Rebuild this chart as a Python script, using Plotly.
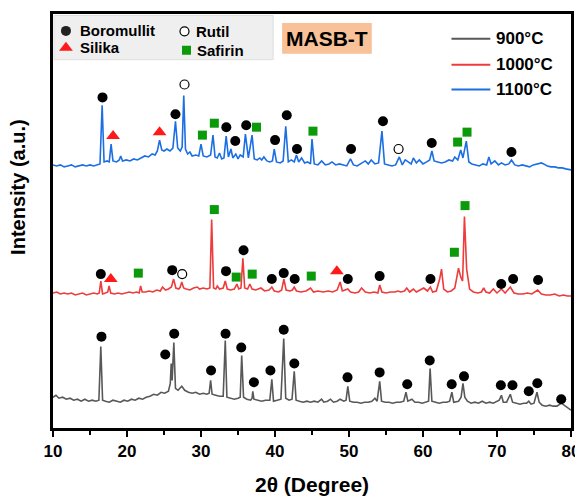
import plotly.graph_objects as go

# ---------------- data (2θ in degrees, intensity in a.u.) ----------------
T900_X = [10.0, 10.4, 10.8, 11.3, 11.8, 12.3, 12.8, 13.3, 13.8, 14.3, 14.8, 15.3, 15.8, 16.2, 16.46, 16.7,
          17.1, 17.6, 18.1, 18.6, 19.1, 19.6, 20.1, 20.6, 21.1, 21.6, 22.1, 22.6, 23.1, 23.6, 24.1, 24.6,
          25.1, 25.6, 25.85, 25.97, 26.1, 26.33, 26.55, 26.9, 27.4, 27.8, 28.3, 28.8, 29.3, 29.8, 30.3, 30.8,
          31.1, 31.3, 31.5, 32.0, 32.5, 33.0, 33.28, 33.5, 34.0, 34.5, 35.0, 35.3, 35.5, 35.75, 36.2, 36.7,
          36.9, 37.0, 37.15, 37.7, 38.2, 38.7, 39.3, 39.57, 39.8, 40.3, 40.8, 41.18, 41.45, 41.9, 42.3, 42.6,
          42.85, 43.3, 43.8, 44.3, 44.8, 45.3, 45.8, 46.3, 46.6, 47.1, 47.5, 47.9, 48.4, 48.8, 49.3, 49.6,
          49.84, 50.1, 50.6, 51.1, 51.6, 52.1, 52.6, 53.1, 53.5, 53.8, 54.15, 54.4, 54.9, 55.4, 55.9, 56.4,
          56.9, 57.4, 57.7, 57.95, 58.5, 58.9, 59.4, 59.9, 60.4, 60.75, 60.96, 61.2, 61.7, 62.2, 62.7, 63.2,
          63.6, 63.9, 64.15, 64.8, 65.15, 65.4, 65.65, 66.0, 66.5, 67.0, 67.5, 68.0, 68.5, 69.0, 69.5, 70.0,
          70.3, 70.6, 70.85, 71.3, 71.8, 72.1, 72.6, 73.1, 73.6, 74.0, 74.3, 74.6, 75.0, 75.4, 75.7, 76.1,
          76.6, 77.1, 77.6, 78.1, 78.7, 79.2, 79.6, 80.0]
T900_Y = [31, 33, 30, 31, 29, 30, 28, 29, 27, 29, 27, 28, 27, 28, 82, 28,
          27, 26, 28, 27, 26, 28, 27, 29, 28, 30, 29, 31, 32, 34, 33, 36,
          35, 37, 45, 65, 48, 86, 40, 38, 42, 38, 36, 35, 36, 34, 35, 34,
          35, 48, 34, 33, 32, 32, 88, 31, 30, 29, 30, 31, 73, 31, 29, 28,
          30, 37, 29, 28, 27, 28, 28, 49, 27, 28, 29, 90, 30, 28, 29, 57,
          28, 27, 26, 27, 26, 27, 26, 29, 26, 27, 29, 26, 27, 29, 27, 28,
          42, 27, 26, 26, 25, 26, 26, 27, 30, 27, 47, 27, 26, 26, 25, 26,
          26, 27, 36, 27, 29, 26, 26, 25, 26, 27, 60, 27, 26, 25, 26, 26,
          27, 36, 26, 27, 31, 45, 31, 27, 25, 26, 25, 27, 25, 26, 25, 27,
          28, 33, 26, 26, 34, 26, 25, 24, 25, 25, 27, 24, 25, 36, 26, 23,
          22, 23, 22, 22, 25, 22, 20, 18]

T1000_X = [10.0, 10.5, 11.0, 11.5, 12.0, 12.5, 13.0, 13.5, 14.0, 14.5, 15.0, 15.5, 16.0, 16.25, 16.46, 16.7,
           17.1, 17.4, 17.58, 17.8, 18.3, 18.8, 19.3, 19.8, 20.3, 20.8, 21.3, 21.65, 21.84, 22.05, 22.5, 23.0,
           23.5, 24.0, 24.5, 24.8, 25.2, 25.6, 26.0, 26.3, 26.6, 27.0, 27.2, 27.4, 27.65, 28.0, 28.5, 29.0,
           29.5, 29.8, 30.3, 30.8, 31.2, 31.44, 31.7, 32.0, 32.2, 32.5, 33.0, 33.28, 33.55, 34.0, 34.5, 34.85,
           35.1, 35.4, 35.66, 35.9, 36.3, 36.6, 36.9, 37.4, 38.1, 38.6, 39.2, 39.57, 39.9, 40.5, 40.9, 41.2,
           41.5, 42.0, 42.35, 42.6, 42.9, 43.5, 44.2, 44.8, 45.2, 45.8, 46.5, 47.2, 47.8, 48.4, 48.8, 49.1,
           49.5, 49.84, 50.2, 50.8, 51.3, 51.7, 52.2, 52.8, 53.4, 53.9, 54.15, 54.45, 55.0, 55.6, 56.2, 56.6,
           57.0, 57.5, 57.8, 58.2, 58.7, 59.1, 59.6, 60.1, 60.6, 61.0, 61.3, 61.8, 62.25, 62.5, 62.8, 63.3,
           63.8, 64.3, 64.8, 65.1, 65.35, 65.6, 65.9, 66.3, 66.8, 67.4, 67.9, 68.2, 68.5, 69.0, 69.5, 70.0,
           70.6, 71.1, 71.8, 72.3, 72.9, 73.5, 74.1, 74.7, 75.5, 76.0, 76.6, 77.2, 77.8, 78.4, 79.0, 79.5,
           80.0]
T1000_Y = [136, 137, 135, 136, 135, 136, 134, 135, 136, 134, 135, 136, 135, 136, 148, 135,
           136, 137, 143, 136, 135, 136, 135, 136, 137, 136, 137, 136, 143, 137, 137, 138,
           137, 139, 138, 142, 139, 140, 142, 150, 141, 140, 142, 147, 141, 140, 139, 141,
           142, 140, 141, 140, 141, 210, 141, 140, 143, 140, 141, 148, 140, 139, 140, 145,
           140, 141, 171, 141, 140, 145, 140, 139, 141, 138, 139, 142, 138, 137, 139, 150,
           139, 138, 139, 142, 138, 137, 138, 141, 137, 138, 137, 138, 137, 139, 147, 138,
           139, 140, 137, 136, 137, 141, 137, 136, 137, 136, 144, 137, 136, 137, 137, 138,
           137, 138, 141, 137, 140, 137, 139, 141, 138, 142, 137, 138, 150, 160, 140, 137,
           138, 141, 161, 152, 148, 213, 160, 140, 137, 136, 137, 141, 137, 136, 140, 136,
           140, 136, 142, 136, 135, 135, 136, 135, 139, 135, 134, 134, 135, 133, 134, 133,
           133]

T1100_X = [10.0, 10.5, 11.0, 11.5, 12.0, 12.5, 13.0, 13.5, 14.0, 14.5, 15.0, 15.5, 16.0, 16.35, 16.64, 16.9,
           17.3, 17.6, 17.85, 18.1, 18.6, 18.95, 19.15, 19.4, 19.9, 20.4, 20.9, 21.4, 21.9, 22.4, 22.9, 23.4,
           23.8, 24.1, 24.4, 24.7, 25.0, 25.4, 25.8, 26.2, 26.55, 26.85, 27.2, 27.45, 27.67, 27.9, 28.2, 28.5,
           28.8, 29.3, 29.7, 30.0, 30.3, 30.8, 31.3, 31.62, 31.9, 32.2, 32.5, 32.8, 33.1, 33.4, 33.7, 34.05,
           34.3, 34.7, 35.0, 35.3, 35.7, 36.0, 36.4, 36.9, 37.2, 37.6, 37.95, 38.2, 38.5, 38.9, 39.3, 39.65,
           39.9, 40.2, 40.7, 41.1, 41.45, 41.8, 42.2, 42.6, 42.9, 43.2, 43.6, 44.0, 44.4, 44.8, 45.0, 45.3,
           45.8, 46.3, 46.8, 47.3, 47.7, 48.2, 48.7, 49.2, 49.7, 50.2, 50.6, 51.1, 51.6, 52.2, 52.6, 53.0,
           53.5, 54.0, 54.45, 54.8, 55.3, 55.8, 56.3, 56.8, 57.2, 57.6, 58.0, 58.4, 58.7, 59.1, 59.5, 60.0,
           60.5, 60.9, 61.2, 61.5, 62.0, 62.5, 63.0, 63.5, 64.0, 64.3, 64.7, 65.1, 65.4, 65.85, 66.2, 66.6,
           67.1, 67.6, 68.1, 68.6, 68.9, 69.2, 69.7, 70.2, 70.6, 71.1, 71.6, 71.96, 72.4, 72.9, 73.4, 73.9,
           74.4, 74.9, 75.4, 75.8, 76.0, 76.3, 76.8, 77.3, 77.8, 78.3, 78.8, 79.3, 79.7, 80.0]
T1100_Y = [265, 264, 265, 263, 264, 265, 263, 264, 265, 264, 265, 264, 265, 266, 325, 268,
           269, 268, 286, 269, 268, 270, 274, 269, 270, 269, 271, 270, 272, 274, 273, 276,
           275, 279, 290, 280, 279, 281, 279, 282, 309, 282, 279, 283, 335, 281, 276, 278,
           274, 275, 274, 286, 274, 273, 275, 295, 273, 272, 277, 271, 272, 294, 273, 281,
           272, 276, 271, 275, 273, 296, 272, 295, 271, 270, 272, 270, 273, 269, 268, 269,
           281, 268, 267, 269, 304, 268, 270, 268, 275, 268, 272, 267, 268, 266, 291, 266,
           265, 269, 265, 266, 268, 265, 266, 265, 264, 271, 265, 264, 266, 269, 266, 270,
           266, 267, 299, 266, 265, 264, 265, 273, 265, 270, 268, 266, 272, 267, 270, 266,
           268, 270, 279, 269, 268, 267, 268, 270, 269, 273, 270, 280, 272, 289, 268, 266,
           265, 264, 266, 265, 273, 266, 269, 265, 267, 265, 266, 270, 265, 264, 265, 264,
           263, 265, 266, 267, 267, 266, 264, 263, 263, 262, 262, 261, 260, 260]

# phase identification markers (2θ, intensity)
BOROMULLIT_X = [16.55, 25.17, 26.38, 31.36, 33.32, 35.44, 37.15, 39.38, 41.18, 42.61, 49.80, 54.14, 57.87,
                60.91, 63.88, 65.54, 70.52, 72.09, 74.29, 75.45, 78.68,
                16.46, 26.11, 33.38, 35.75, 39.57, 41.18, 42.66, 49.84, 54.14, 61.01, 70.57, 72.18, 75.55,
                16.69, 26.55, 33.42, 34.63, 36.11, 40.01, 41.59, 42.97, 50.28, 54.59, 61.18, 71.95]
BOROMULLIT_Y = [92, 74, 95, 58, 95, 81, 46, 58, 99, 65, 51, 56, 44,
                68, 44, 52, 43, 43, 37, 45, 29,
                155, 159, 158, 179, 150, 156, 150, 150, 153, 150, 145, 150, 149,
                333, 316, 303, 289, 305, 290, 315, 281, 281, 309, 287, 278]
RUTIL_X = [27.46, 27.77, 56.70]
RUTIL_Y = [155, 346, 281]
SILIKA_X = [17.81, 48.36, 18.12, 24.40]
SILIKA_Y = [150, 158, 294, 298]
SAFIRIN_X = [21.53, 31.80, 34.76, 36.92, 44.90, 64.24, 65.68, 30.19, 31.80, 37.50, 45.13, 64.68, 65.95]
SAFIRIN_Y = [156, 220, 152, 155, 153, 177, 224, 295, 307, 303, 299, 288, 298]

SERIES_NAMES = ["900°C", "1000°C", "1100°C"]
SERIES_COLORS = ["#585858", "#ee3b3b", "#1c6fe3"]
X_TICKS = [10, 20, 30, 40, 50, 60, 70, 80]

FONT = "Liberation Sans, Arial, sans-serif"

fig = go.Figure()

for xs, ys, name, col in zip([T900_X, T1000_X, T1100_X], [T900_Y, T1000_Y, T1100_Y],
                             SERIES_NAMES, SERIES_COLORS):
    fig.add_trace(go.Scatter(x=xs, y=ys, mode="lines", name=name,
                             line=dict(color=col, width=1.6), showlegend=False))

fig.add_trace(go.Scatter(x=BOROMULLIT_X, y=BOROMULLIT_Y, mode="markers", showlegend=False,
                         marker=dict(symbol="circle", size=10, color="black"), cliponaxis=False))
fig.add_trace(go.Scatter(x=RUTIL_X, y=RUTIL_Y, mode="markers", showlegend=False,
                         marker=dict(symbol="circle", size=9, color="white",
                                     line=dict(color="black", width=1.2)), cliponaxis=False))
fig.add_trace(go.Scatter(x=SILIKA_X, y=SILIKA_Y, mode="markers", showlegend=False,
                         marker=dict(symbol="triangle-up", size=12, color="#ff1a1a"), cliponaxis=False))
fig.add_trace(go.Scatter(x=SAFIRIN_X, y=SAFIRIN_Y, mode="markers", showlegend=False,
                         marker=dict(symbol="square", size=9, color="#0a9a0a"), cliponaxis=False))

# ---- legend keys drawn on a pixel-aligned overlay axis (page pixel coords) ----
fig.add_trace(go.Scatter(x=[66], y=[28], xaxis="x2", yaxis="y2", mode="markers", showlegend=False,
                         marker=dict(symbol="circle", size=10, color="#222222")))
fig.add_trace(go.Scatter(x=[66], y=[45], xaxis="x2", yaxis="y2", mode="markers", showlegend=False,
                         marker=dict(symbol="triangle-up", size=12, color="#ff1a1a")))
fig.add_trace(go.Scatter(x=[185], y=[28.5], xaxis="x2", yaxis="y2", mode="markers", showlegend=False,
                         marker=dict(symbol="circle", size=9, color="white",
                                     line=dict(color="black", width=1.2))))
fig.add_trace(go.Scatter(x=[187], y=[47.5], xaxis="x2", yaxis="y2", mode="markers", showlegend=False,
                         marker=dict(symbol="square", size=9, color="#0a9a0a")))

shapes = [
    dict(type="rect", xref="x2", yref="y2", x0=54, x1=274, y0=12.5, y1=57,
         fillcolor="#efefef", line=dict(color="#dedede", width=1), layer="below"),
    dict(type="rect", xref="x2", yref="y2", x0=283, x1=373, y0=20, y1=51,
         fillcolor="#f8c197", line=dict(width=0), layer="below"),
]
for yy, col in zip([36, 62, 87], SERIES_COLORS):
    shapes.append(dict(type="line", xref="x2", yref="y2", x0=453, x1=492, y0=yy, y1=yy,
                       line=dict(color=col, width=2)))

annotations = []
for txt, x, y in [("Boromullit", 78, 28), ("Silika", 78, 45), ("Rutil", 195, 28.5), ("Safirin", 196, 47.5)]:
    annotations.append(dict(text=f"<b>{txt}</b>", x=x, y=y, xref="x2", yref="y2", showarrow=False,
                            xanchor="left", yanchor="middle", font=dict(family=FONT, size=15, color="black")))
for txt, y in zip(SERIES_NAMES, [36, 62, 87]):
    annotations.append(dict(text=f"<b>{txt}</b>", x=496, y=y, xref="x2", yref="y2", showarrow=False,
                            xanchor="left", yanchor="middle", font=dict(family=FONT, size=17, color="black")))
annotations.append(dict(text="<b>MASB-T</b>", x=328, y=36, xref="x2", yref="y2", showarrow=False,
                        xanchor="center", yanchor="middle", font=dict(family=FONT, size=21, color="black")))
annotations.append(dict(text="<b>2θ (Degree)</b>", x=0.5, y=(428 - 485) / 417, xref="paper", yref="paper",
                        showarrow=False, xanchor="center", yanchor="middle",
                        font=dict(family=FONT, size=21, color="black")))
annotations.append(dict(text="<b>Intensity (a.u.)</b>", x=(18 - 53) / 520, y=(428 - 185) / 417,
                        xref="paper", yref="paper", showarrow=False, textangle=-90,
                        xanchor="center", yanchor="middle", font=dict(family=FONT, size=20, color="black")))

# the page body adds an 8px offset, so the figure is 8px smaller and margins shift by 8px
fig.update_layout(
    width=575, height=489,
    margin=dict(l=45, r=10, t=3, b=69),
    paper_bgcolor="white", plot_bgcolor="white",
    showlegend=False,
    shapes=shapes, annotations=annotations,
    xaxis=dict(range=[10, 80], tickvals=X_TICKS, ticktext=[f"<b>{t}</b>" for t in X_TICKS],
               ticks="outside", ticklen=6, tickwidth=2, tickcolor="black",
               minor=dict(dtick=5, tick0=10, ticks="outside", ticklen=4, tickwidth=2, tickcolor="black"),
               showline=True, linecolor="black", linewidth=2.5, mirror=True,
               showgrid=False, zeroline=False,
               tickfont=dict(family=FONT, size=17, color="black")),
    yaxis=dict(range=[0, 417], showticklabels=False, ticks="", showgrid=False, zeroline=False,
               showline=True, linecolor="black", linewidth=2.5, mirror=True),
    xaxis2=dict(overlaying="x", range=[53, 573], visible=False, fixedrange=True),
    yaxis2=dict(overlaying="y", range=[428, 11], visible=False, fixedrange=True),
)

fig.write_html("out.html")
